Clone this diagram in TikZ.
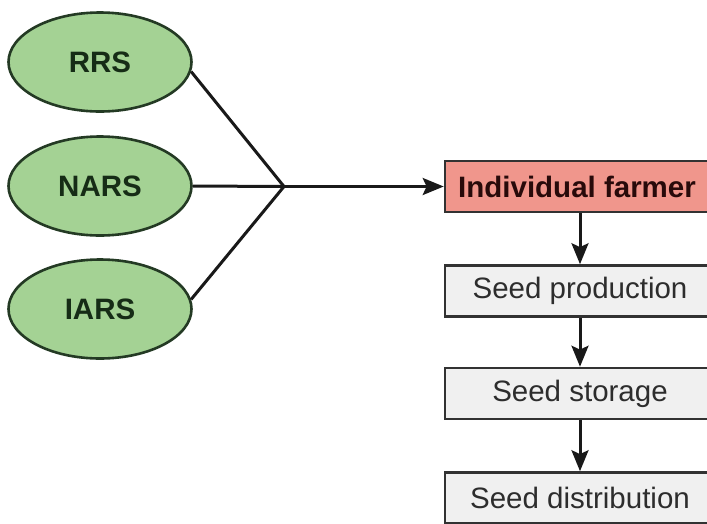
\documentclass[tikz,border=0pt]{standalone}
\usepackage{fontspec}
\setmainfont{Liberation Sans}
\usetikzlibrary{arrows.meta,shapes.geometric}
\definecolor{ellfill}{RGB}{164,210,148}
\definecolor{elldraw}{RGB}{36,58,36}
\definecolor{elltext}{RGB}{22,44,22}
\definecolor{farmfill}{RGB}{240,150,140}
\definecolor{farmtext}{RGB}{40,10,10}
\definecolor{grayfill}{RGB}{240,240,240}
\definecolor{graydraw}{RGB}{50,50,50}
\definecolor{graytext}{RGB}{45,45,45}
\definecolor{linecol}{RGB}{25,25,25}
\tikzset{
  src/.style={ellipse, draw=elldraw, fill=ellfill, line width=2.6pt, inner sep=0pt,
    minimum width=183pt, minimum height=99pt, text=elltext,
    font=\fontsize{29.5}{32}\selectfont\bfseries},
  farmbox/.style={rectangle, draw=graydraw, fill=farmfill, line width=2.6pt, inner sep=0pt,
    minimum width=268pt, minimum height=51pt},
  stepbox/.style={rectangle, draw=graydraw, fill=grayfill, line width=2.6pt, inner sep=0pt,
    minimum width=268pt, minimum height=51pt},
  conn/.style={draw=linecol, line width=3pt},
  arr/.style={conn, -{Stealth[length=21pt,width=17pt,inset=4pt]}}
}
\begin{document}
\begin{tikzpicture}[x=1pt,y=-1pt]
\clip (0,0) rectangle (707,523);
\fill[white] (0,0) rectangle (707,523);
\node[src] (rrs) at (100,62) {RRS};
\node[src] (nars) at (100,186) {NARS};
\node[src] (iars) at (100,309) {IARS};
\coordinate (j) at (284,186.5);
\node[farmbox] (farmer) at (579,186.5) {};
\node[font=\fontsize{29.5}{32}\selectfont\bfseries, text=farmtext] (farmerlbl) at (577,186.5) {Individual farmer};
\node[stepbox] (prod) at (579,291) {};
\node[font=\fontsize{29.5}{32}\selectfont, text=graytext] (prodlbl) at (580,291) {Seed production};
\node[stepbox] (stor) at (579,393.5) {};
\node[font=\fontsize{29.5}{32}\selectfont, text=graytext] (storlbl) at (580,393.5) {Seed storage};
\node[stepbox] (dist) at (579,498) {};
\node[font=\fontsize{29.5}{32}\selectfont, text=graytext] (distlbl) at (580,498) {Seed distribution};
\draw[conn] (rrs.-6) -- (j);
\draw[conn] (nars.east) -- (j);
\draw[conn] (iars.6) -- (j);
\draw[arr] (j) -- (farmer.west);
\draw[arr] (farmer.south -| prodlbl) -- (prod.north -| prodlbl);
\draw[arr] (prod.south -| prodlbl) -- (stor.north -| prodlbl);
\draw[arr] (stor.south -| prodlbl) -- (dist.north -| prodlbl);
\end{tikzpicture}
\end{document}
